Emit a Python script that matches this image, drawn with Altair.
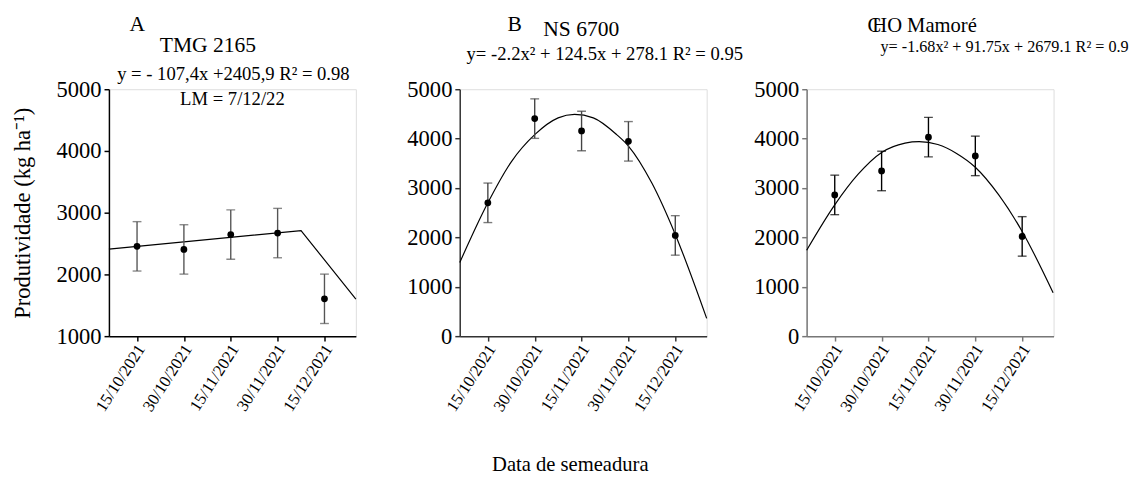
import altair as alt
import pandas as pd

FONT = "Liberation Serif"

# ---- data ----
dates = ["15/10/2021", "30/10/2021", "15/11/2021", "30/11/2021", "15/12/2021"]
sow = [1, 2, 3, 4, 5]

a_yield = [2455, 2405, 2645, 2670, 1605]
a_err = [400, 400, 400, 400, 400]
a_fit_x = [0.4, 4.5, 5.67]
a_fit_y = [2410, 2710, 1600]

b_yield = [2700, 4405, 4155, 3945, 2040]
b_err = [400, 400, 400, 400, 400]
b_fit_x = [0.4, 1, 1.5, 2, 2.5, 2.85, 3.25, 3.75, 4, 4.5, 5, 5.67]
b_fit_y = [1490, 2700, 3530, 4080, 4420, 4490, 4420, 4080, 3850, 3100, 2060, 360]

c_yield = [2860, 3345, 4030, 3650, 2020]
c_err = [400, 400, 400, 400, 400]
c_fit_x = [0.4, 1, 1.5, 2, 2.5, 2.8, 3.2, 3.6, 4, 4.5, 5, 5.66]
c_fit_y = [1740, 2660, 3280, 3720, 3910, 3940, 3880, 3700, 3420, 2860, 2120, 880]

letters = ["A", "B", "C"]
cultivars = ["TMG 2165", "NS 6700", "HO Mamoré"]
equations = [
    "y = - 107,4x +2405,9 R² = 0.98",
    "y= -2.2x² + 124.5x + 278.1 R² = 0.95",
    "y= -1.68x² + 91.75x + 2679.1 R² = 0.9",
]
lm_note = "LM = 7/12/22"
y_title = "Produtividade (kg ha⁻¹)"
x_title = "Data de semeadura"

W, H = 252, 252
label_expr = "[''," + ",".join("'%s'" % d for d in dates) + "][datum.value]"


def txt(s, x, y, size, align="center"):
    return alt.Chart(pd.DataFrame({"t": [s]})).mark_text(
        font=FONT, fontSize=size, align=align, baseline="middle", color="black"
    ).encode(text="t:N", x=alt.value(x), y=alt.value(y))


def panel(yv, err, fx, fy, ydom, yvals, axis_color, err_color, texts, linear, ytitle=None):
    pts = pd.DataFrame({"x": sow, "y": yv,
                        "lo": [v - e for v, e in zip(yv, err)],
                        "hi": [v + e for v, e in zip(yv, err)]})
    fit = pd.DataFrame({"x": fx, "y": fy})
    xs = alt.Scale(domain=[0.4, 5.67], nice=False, zero=False)
    ys = alt.Scale(domain=ydom, nice=False, zero=False)
    xaxis = alt.Axis(values=sow, labelExpr=label_expr, labelAngle=-57, labelAlign="right",
                     labelBaseline="middle", labelFont=FONT, labelFontSize=17, labelColor="black",
                     labelPadding=5, labelOffset=4, labelOverlap=False, title=None, grid=False,
                     domainColor=axis_color, domainWidth=1.5, tickColor=axis_color,
                     tickSize=5, tickWidth=1.5)
    yaxis_kw = dict(values=yvals, format="d", labelFont=FONT, labelFontSize=23,
                    labelColor="black", labelPadding=3, labelOverlap=False, grid=False,
                    domainColor=axis_color, domainWidth=1.5,
                    tickColor=axis_color, tickSize=5, tickWidth=1.5)
    if ytitle:
        yaxis = alt.Axis(title=ytitle, titleFont=FONT, titleFontSize=23,
                         titleFontWeight="normal", titleColor="black", titlePadding=22, **yaxis_kw)
    else:
        yaxis = alt.Axis(title=None, **yaxis_kw)

    base = alt.Chart(pts)
    line = alt.Chart(fit).mark_line(color="black", strokeWidth=1.2,
                                    interpolate="linear" if linear else "monotone").encode(
        x=alt.X("x:Q", scale=xs, axis=xaxis), y=alt.Y("y:Q", scale=ys, axis=yaxis))
    rule = base.mark_rule(color=err_color, strokeWidth=1.4).encode(
        x=alt.X("x:Q", scale=xs), y=alt.Y("lo:Q", scale=ys), y2="hi:Q")
    cap_lo = base.mark_tick(color=err_color, thickness=1.4, size=9, orient="horizontal").encode(
        x=alt.X("x:Q", scale=xs), y=alt.Y("lo:Q", scale=ys))
    cap_hi = base.mark_tick(color=err_color, thickness=1.4, size=9, orient="horizontal").encode(
        x=alt.X("x:Q", scale=xs), y=alt.Y("hi:Q", scale=ys))
    pt = base.mark_circle(color="black", opacity=1, size=48).encode(
        x=alt.X("x:Q", scale=xs), y=alt.Y("y:Q", scale=ys))
    layers = [line, rule, cap_lo, cap_hi, pt] + texts
    return alt.layer(*layers).properties(width=W, height=H)


pa = panel(a_yield, a_err, a_fit_x, a_fit_y, [1000, 5000], [1000, 2000, 3000, 4000, 5000],
           "black", "#555555",
           [txt(letters[0], 29, -66, 22), txt(cultivars[0], 101, -45, 22),
            txt(equations[0], 127, -15, 19), txt(lm_note, 126, 10, 19)],
           True, ytitle=y_title)
pb = panel(b_yield, b_err, b_fit_x, b_fit_y, [0, 5000], [0, 1000, 2000, 3000, 4000, 5000],
           "#333333", "#444444",
           [txt(letters[1], 56, -66, 22), txt(cultivars[1], 124, -61, 22),
            txt(equations[1], 148, -36, 19)],
           False)
pc = panel(c_yield, c_err, c_fit_x, c_fit_y, [0, 5000], [0, 1000, 2000, 3000, 4000, 5000],
           "#777777", "black",
           [txt(letters[2], 69, -64, 21), txt(cultivars[2], 67, -64, 21, align="left"),
            txt(equations[2], 202, -43, 16.5)],
           False)

chart = alt.hconcat(pa, alt.hconcat(pb, pc, spacing=9), spacing=48).properties(
    title=alt.TitleParams(x_title, orient="bottom", anchor="middle", font=FONT, fontSize=21,
                          fontWeight="normal", color="black", offset=41)
).configure_view(stroke=None).configure(padding={"left": 3, "top": 0, "right": 0, "bottom": 5})

chart.save("out.html", embed_options={"renderer": "svg", "actions": False})
